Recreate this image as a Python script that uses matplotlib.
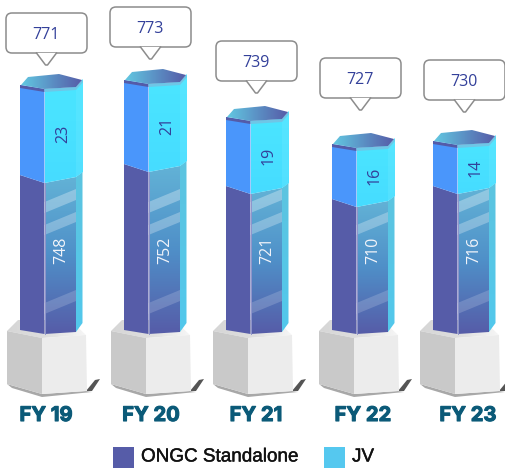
import numpy as np
import matplotlib
matplotlib.use("Agg")
import matplotlib.pyplot as plt
import matplotlib.patheffects as pe
from matplotlib.colors import LinearSegmentedColormap
from matplotlib.patches import Polygon, Rectangle, FancyBboxPatch

# data
years = ["FY 19", "FY 20", "FY 21", "FY 22", "FY 23"]
standalone = [748, 752, 721, 710, 716]
jv = [23, 21, 19, 16, 14]
totals = [771, 773, 739, 727, 730]

# layout of the picture (pixels)
col_left = [20, 124, 226, 332, 433]
callout_top = [13, 7, 41, 58, 60]
callout_left = [6, 110, 216, 320, 424]
label_x = [46, 151, 256, 363, 468]
col_base = 330

# the columns are not drawn to a zero based scale, these are the picture's scales
standalone_scale = ([710, 716, 721, 748, 752], [131, 144, 144, 155, 166])
jv_scale = ([14, 16, 19, 21, 23], [45, 55, 69, 84, 90])


def gradient(ax, poly, colors, vertical=True, z=2):
    """remplit un polygone avec un dégradé"""
    cmap = LinearSegmentedColormap.from_list("g", colors)
    pts = np.array(poly)
    ext = (pts[:, 0].min(), pts[:, 0].max(), pts[:, 1].max(), pts[:, 1].min())
    g = np.linspace(0, 1, 128)
    g = g.reshape(-1, 1) if vertical else g.reshape(1, -1)
    im = ax.imshow(g, cmap=cmap, extent=ext, aspect="auto", zorder=z, interpolation="bilinear")
    patch = Polygon(poly, closed=True, fc="none", ec="none", transform=ax.transData)
    ax.add_patch(patch)
    im.set_clip_path(patch)


def pedestal(ax, x0):
    # ombre
    ax.add_patch(Polygon([(x0 - 13, 384), (x0 + 22, 394), (x0 + 66, 391), (x0 + 72, 392), (x0 + 22, 397), (x0 - 8, 388)],
                         fc="#a8a8a8", ec="none", zorder=1))
    ax.add_patch(Polygon([(x0 + 66, 391), (x0 + 75, 380), (x0 + 80, 379), (x0 + 72, 391)], fc="#555555", ec="none", zorder=1))
    gradient(ax, [(x0 - 13, 331), (x0 - 2, 320), (x0 + 50, 320), (x0 + 66, 335), (x0 + 22, 338)],
             ["#d6d6d6", "#dedede", "#f6f6f6"], vertical=False, z=1.2)
    ax.add_patch(Polygon([(x0 - 13, 331), (x0 + 22, 338), (x0 + 22, 394), (x0 - 13, 384)], fc="#c9c9c9", ec="none", zorder=1.3))
    ax.add_patch(Polygon([(x0 + 22, 338), (x0 + 66, 335), (x0 + 67, 391), (x0 + 22, 394)], fc="#ececec", ec="none", zorder=1.3))


def column(ax, x0, h_low, h_up):
    xm, xr, xs = x0 + 24.5, x0 + 56, x0 + 62.5
    split = col_base - h_low
    top = split - h_up

    # partie basse : ONGC Standalone
    ax.add_patch(Polygon([(x0, split), (xm, split + 8), (xm, col_base + 4), (x0, col_base)], fc="#565ca8", ec="none", zorder=2))
    right = [(xm, split + 8), (xr, split + 2), (xr, col_base + 2), (xm, col_base + 4)]
    gradient(ax, right, ["#62b2d6", "#4f8fc8", "#565ca8"])
    gradient(ax, [(xr, split + 2), (xs, split - 3), (xs, col_base - 7), (xr, col_base + 2)], ["#5cc4e0", "#52c8ec"])
    ax.plot([xm, xm], [split + 8, col_base + 4], color="#8f95cc", lw=0.7, zorder=3.2)

    # reflets
    bottom = col_base + 4
    for d_low, d_high, alpha in [(20, 31, 0.17), (99, 109, 0.27), (121, 132, 0.3)]:
        if bottom - d_high - 13 < split + 2:
            continue
        ax.add_patch(Polygon([(xm, bottom - d_low), (xr, bottom - d_low - 13), (xr, bottom - d_high - 13), (xm, bottom - d_high)],
                             fc="white", alpha=alpha, ec="none", zorder=3))

    # partie haute : JV
    ax.add_patch(Polygon([(x0, top), (xm, top + 4), (xm, split + 8), (x0, split)], fc="#4a96fb", ec="none", zorder=4))
    gradient(ax, [(xm, top + 4), (xr, top + 2), (xr + 7, top - 6), (xr + 7, split - 3), (xr, split + 2), (xm, split + 8)],
             ["#4be6ff", "#46dcff"], z=4)
    ax.add_patch(Polygon([(xr, top + 2), (xr + 7, top - 6), (xr + 7, split - 3), (xr, split + 2)], fc="#6fe9ff", alpha=0.3, ec="none", zorder=4.1))

    # dessus
    ax.add_patch(Polygon([(x0, top), (xm, top + 4), (xm, top + 7), (x0, top + 3)], fc="#545ba8", ec="none", zorder=5))
    ax.add_patch(Polygon([(xm, top + 4), (xr, top + 2), (xr + 6, top - 5), (xr + 7, top - 3), (xr, top + 5), (xm, top + 7)],
                         fc="#6fc6e6", ec="none", zorder=5))
    gradient(ax, [(x0 + 1, top), (x0 + 8, top - 8), (x0 + 39, top - 11), (x0 + 62, top - 5), (x0 + 56, top + 2), (xm, top + 4)],
             ["#62c8e2", "#5b90c4", "#565ca8"], vertical=False, z=5.1)


def callout(ax, x, y, txt):
    w, h = 81, 40
    ax.add_patch(FancyBboxPatch((x + 3, y + 3), w - 6, h - 6, boxstyle="round,pad=3,rounding_size=6",
                                fc="white", ec="#8c8c8c", lw=1.1, zorder=6))
    cx = x + w / 2
    ax.add_patch(Polygon([(cx - 10, y + h), (cx, y + h + 11), (cx + 10, y + h)], fc="white", ec="none", zorder=6.1))
    ax.plot([cx - 10, cx - 1, cx + 1, cx + 10], [y + h, y + h + 12, y + h + 12, y + h], color="#8c8c8c", lw=1.1, zorder=6.2)
    ax.text(cx - 0.5, y + h / 2 + 2, txt, ha="center", va="center", fontsize=11.5, color="#33409a",
            family="Open Sans", zorder=7)


fig = plt.figure(figsize=(5.05, 4.68), dpi=100)
ax = fig.add_axes([0, 0, 1, 1])

for i in range(len(years)):
    x0 = col_left[i]
    h_low = np.interp(standalone[i], *standalone_scale)
    h_up = np.interp(jv[i], *jv_scale)
    pedestal(ax, x0)
    column(ax, x0, h_low, h_up)
    callout(ax, callout_left[i], callout_top[i], str(totals[i]))
    split = col_base - h_low
    ax.text(x0 + 41, 250, str(standalone[i]), rotation=90, ha="center", va="center", fontsize=11.5,
            color="#f2f4fa", family="Open Sans", zorder=7)
    ax.text(x0 + 43, split - h_up / 2 + 4, str(jv[i]), rotation=90, ha="center", va="center", fontsize=11.5,
            color="#33409a", family="Open Sans", zorder=7)
    t = ax.text(label_x[i], 416, years[i], ha="center", va="center", fontsize=14.5, fontweight="bold",
                color="#0b5a78", family="Inter", zorder=7)
    t.set_path_effects([pe.withStroke(linewidth=0.8, foreground="#0b5a78")])

# legende
ax.add_patch(Rectangle((113, 447), 21, 21, fc="#565ca8", ec="none"))
ax.add_patch(Rectangle((324, 447), 21, 21, fc="#55c8ef", ec="none"))
for x, txt in [(141, "ONGC Standalone"), (352, "JV")]:
    t = ax.text(x, 457, txt, ha="left", va="center", fontsize=13.6, color="#111111", family="Liberation Sans")
    t.set_path_effects([pe.withStroke(linewidth=0.3, foreground="#111111")])

ax.set_xlim(0, 505)
ax.set_ylim(468, 0)
ax.axis("off")
fig.savefig("out.png", dpi=100)
